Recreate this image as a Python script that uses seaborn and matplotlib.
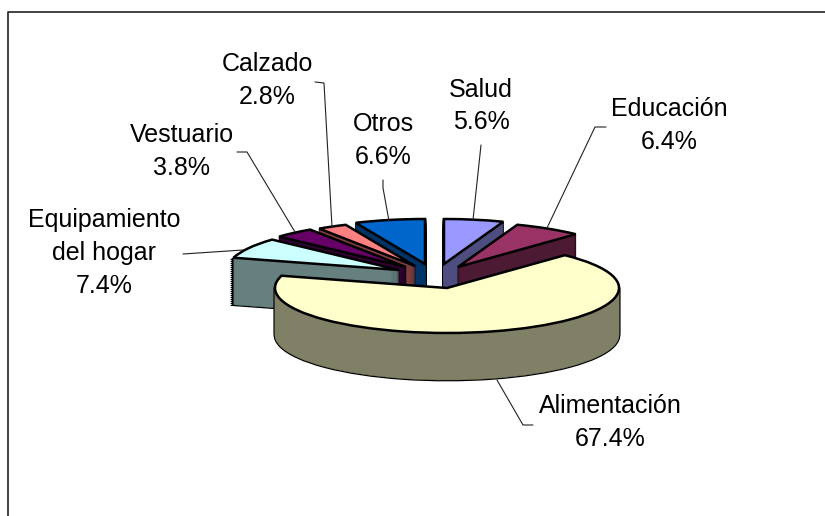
"""
3D style exploded pie: gasto por categoria.
"""

import numpy as np
import matplotlib
matplotlib.use("Agg")
import matplotlib.pyplot as plt
import seaborn as sns

sns.set_theme(style="white")
plt.rcParams["font.family"] = ["Liberation Sans", "DejaVu Sans"]

categories = ["Salud", "Educación", "Alimentación", "Equipamiento del hogar",
              "Vestuario", "Calzado", "Otros"]
shares = [5.6, 6.4, 67.4, 7.4, 3.8, 2.8, 6.6]
share_labels = ["5.6%", "6.4%", "67.4%", "7.4%", "3.8%", "2.8%", "6.6%"]
top_hex = ["#9999FF", "#993366", "#FFFFCC", "#CCFFFF", "#660066", "#FF8080", "#0066CC"]

W, H = 825, 516
RX, SQUASH, DEPTH = 172, 45 / 172, 47
top_colors = sns.color_palette(top_hex)
side_colors = [tuple(np.array(c) * 0.5) for c in top_colors]

# where the tip of each slice sits, in pixels of the picture
tips = [(444, 264), (458, 267), (447, 288), (399, 270), (406, 267), (415, 266), (425, 264)]
# painting order, Alimentacion last
draw_order = [6, 5, 4, 3, 0, 1, 2]


def yy(py):
    # the y axis is squashed so the circles from pie come out as ellipses
    return (H - py) / SQUASH


def one_wedge(ax, idx, px, py, **kw):
    wedges, _ = ax.pie(shares, startangle=90, counterclock=False, radius=RX,
                       center=(px, yy(py)), colors=top_colors, **kw)
    for j, w in enumerate(wedges):
        if j != idx:
            w.remove()
    return wedges[idx]


fig = plt.figure(figsize=(W / 100, H / 100), dpi=100)
ax = fig.add_axes([0, 0, 1, 1])

for i in draw_order:
    px, py = tips[i]
    # black silhouette of the wall, then the wall, then the top face
    for d in range(DEPTH, 0, -2):
        one_wedge(ax, i, px, py + d, wedgeprops={"edgecolor": "black", "linewidth": 2.0})
    for d in range(DEPTH, 0, -1):
        w = one_wedge(ax, i, px, py + d, wedgeprops={"edgecolor": side_colors[i], "linewidth": 0.3})
        w.set_facecolor(side_colors[i])
    one_wedge(ax, i, px, py, wedgeprops={"edgecolor": "black", "linewidth": 1.8})

ax.set_aspect("auto")
ax.set_xlim(0, W)
ax.set_ylim(0, H / SQUASH)
ax.axis("off")

# labels
FS = 18
label_pos = {"Salud": (481, 90, 122), "Educación": (669, 109, 142), "Alimentación": (610, 406, 439),
             "Vestuario": (182, 135, 168), "Calzado": (267, 64, 97), "Otros": (383, 124, 157)}
for name, val in zip(categories, share_labels):
    if name in label_pos:
        x, y1, y2 = label_pos[name]
        ax.text(x, yy(y1), name, ha="center", va="center", fontsize=FS, color="black")
        ax.text(x, yy(y2), val, ha="center", va="center", fontsize=FS, color="black")
ax.text(104, yy(220), "Equipamiento", ha="center", va="center", fontsize=FS, color="black")
ax.text(104, yy(253), "del hogar", ha="center", va="center", fontsize=FS, color="black")
ax.text(104, yy(286), share_labels[3], ha="center", va="center", fontsize=FS, color="black")

# leader lines
leaders = [
    [(315, 82), (324, 83), (332, 227)],
    [(237, 152), (247, 152), (295, 232)],
    [(383, 180), (383, 188), (389, 221)],
    [(481, 145), (473, 220)],
    [(606, 127), (595, 127), (547, 228)],
    [(183, 254), (243, 250)],
    [(533, 425), (523, 425), (497, 380)],
]
for pts in leaders:
    xs = [p[0] for p in pts]
    ys = [yy(p[1]) for p in pts]
    ax.plot(xs, ys, color="#222222", lw=0.8, solid_joinstyle="miter")

# chart frame, only top and left in the crop
ax.plot([7.5, 7.5, W], [0, yy(12.5), yy(12.5)], color="#222222", lw=1.2)

fig.savefig("out.png", dpi=100)
